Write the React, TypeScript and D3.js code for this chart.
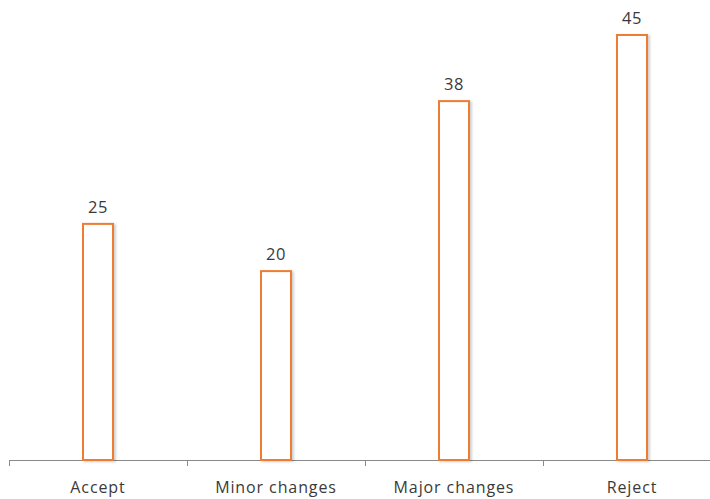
import React from "react";
import * as d3 from "d3";

const categories = ["Accept", "Minor changes", "Major changes", "Reject"];
const values = [25, 20, 38, 45];

export default function App() {
  const W = 710, H = 499;
  const x = d3.scaleBand<string>().domain(categories).range([9, 721]);
  const y = d3.scaleLinear().domain([0, 45]).range([460, 35]);
  const bw = 30;
  const font = "'Open Sans', 'Liberation Sans', sans-serif";
  return (
    <svg width={W} height={H} style={{ position: "absolute", left: 0, top: 0, background: "#fff" }}>
      <defs>
        <filter id="sh" x="-20%" y="-5%" width="150%" height="110%">
          <feDropShadow dx="2" dy="1" stdDeviation="1" floodColor="#000" floodOpacity="0.18" />
        </filter>
      </defs>
      <line x1={9} x2={710} y1={460.5} y2={460.5} stroke="#898989" strokeWidth={1} />
      {[...categories.map((c) => x(c)!), 721].map((t, i) => (
        <line key={i} x1={Math.round(t) + 0.5} x2={Math.round(t) + 0.5} y1={460} y2={466} stroke="#898989" />
      ))}
      {categories.map((c, i) => {
        const cx = x(c)! + x.bandwidth() / 2;
        return (
          <g key={c}>
            <rect
              x={cx - bw / 2}
              y={y(values[i])}
              width={bw}
              height={y(0) - y(values[i])}
              fill="#fff"
              stroke="#ED7D31"
              strokeWidth={2}
              filter="url(#sh)"
            />
            <text x={cx} y={y(values[i]) - 11} textAnchor="middle" fontFamily={font} fontSize={16.5} letterSpacing={0.5} fill="#3a3a3a">
              {values[i]}
            </text>
            <text x={cx} y={493} textAnchor="middle" fontFamily={font} fontSize={16} letterSpacing={0.9} fill="#3a3a3a">
              {c}
            </text>
          </g>
        );
      })}
    </svg>
  );
}
